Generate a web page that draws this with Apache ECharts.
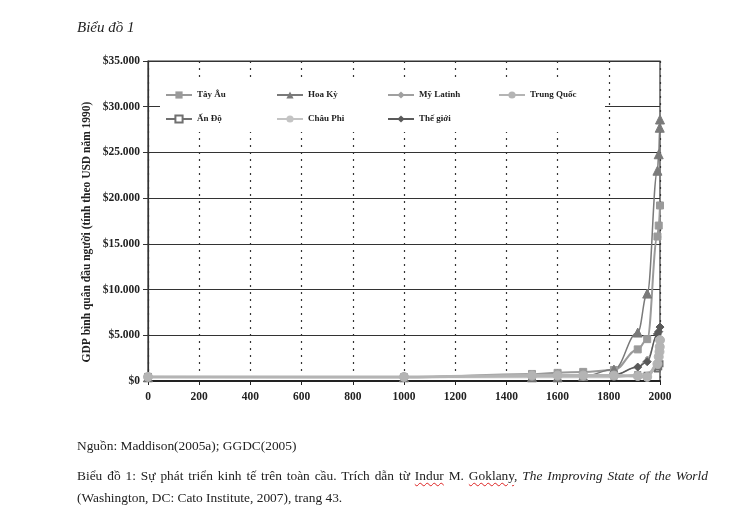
<!DOCTYPE html>
<html>
<head>
<meta charset="utf-8">
<script src="https://cdn.jsdelivr.net/npm/echarts@6/dist/echarts.min.js"></script>
<style>
  html, body { margin: 0; padding: 0; background: #fff; }
  #chart { position: absolute; left: 0; top: 0; width: 750px; height: 528px; }
  .cap { position: absolute; left: 77px; font-family: "Liberation Serif", serif; font-size: 13.4px; color: #222; white-space: nowrap; }
  .just { width: 631px; white-space: normal; text-align: justify; text-align-last: justify; }
  .sp { text-decoration: underline wavy #d22; text-underline-offset: 2px; text-decoration-thickness: 1px; }
</style>
</head>
<body>
<div id="chart"></div>
<div class="cap" style="top:438px;">Nguồn: Maddison(2005a); GGDC(2005)</div>
<div class="cap just" style="top:468px;">Biểu đồ 1: Sự phát triển kinh tế trên toàn cầu. Trích dẫn từ <span class="sp">Indur</span> M. <span class="sp">Goklany</span>, <i>The Improving State of the World</i></div>
<div class="cap" style="top:490px;">(Washington, DC: Cato Institute, 2007), trang 43.</div>
<script>
// ---- data ----
const seriesNames = ['Tây Âu', 'Hoa Kỳ', 'Mỹ Latinh', 'Trung Quốc', 'Ấn Độ', 'Châu Phi', 'Thế giới'];

const tayAuYears   = [0, 1000, 1500, 1600, 1700, 1820, 1913, 1950, 1990, 1995, 2000];
const tayAuValues  = [450, 400, 771, 890, 998, 1204, 3458, 4579, 15800, 17000, 19200];

const hoaKyYears   = [0, 1000, 1500, 1600, 1700, 1820, 1913, 1950, 1990, 1995, 1999, 2000];
const hoaKyValues  = [400, 400, 400, 400, 527, 1257, 5301, 9561, 23000, 24800, 27700, 28600];

const myLatinhYears  = [0, 1000, 1500, 1600, 1700, 1820, 1913, 1950, 1990, 1995, 2000];
const myLatinhValues = [400, 400, 416, 438, 527, 691, 1493, 2503, 5050, 5450, 5800];

const trungQuocYears  = [0, 1000, 1500, 1600, 1700, 1820, 1913, 1950, 1990, 1995, 1998, 1999, 2000];
const trungQuocValues = [450, 450, 600, 600, 600, 600, 552, 448, 1870, 2650, 3200, 3740, 4470];

const anDoYears   = [0, 1000, 1500, 1600, 1700, 1820, 1913, 1950, 1990, 1995, 2000];
const anDoValues  = [450, 450, 550, 550, 550, 533, 673, 619, 1310, 1570, 1900];

const chauPhiYears  = [0, 1000, 1500, 1600, 1700, 1820, 1913, 1950, 1990, 2000];
const chauPhiValues = [472, 425, 414, 422, 421, 420, 637, 890, 1430, 1450];

const theGioiYears  = [0, 1000, 1500, 1600, 1700, 1820, 1913, 1950, 1990, 1995, 2000];
const theGioiValues = [467, 453, 566, 596, 616, 667, 1526, 2113, 5150, 5400, 5900];

const xTicks = [0, 200, 400, 600, 800, 1000, 1200, 1400, 1600, 1800, 2000];
const yTicks = [0, 5000, 10000, 15000, 20000, 25000, 30000, 35000];

const yAxisTitle = 'GDP bình quân đầu người (tính theo USD năm 1990)';

function pairs(xs, ys) { return xs.map((x, i) => [x, ys[i]]); }

const FONT = '"Liberation Serif", "Times New Roman", serif';

const styles = [
  { color: '#9a9a9a', width: 2,   symbol: 'rect',      size: 7 },
  { color: '#7a7a7a', width: 1.5, symbol: 'triangle',  size: 9 },
  { color: '#a0a0a0', width: 1,   symbol: 'diamond',   size: 4 },
  { color: '#b4b4b4', width: 3,   symbol: 'circle',    size: 9 },
  { color: '#707070', width: 1,   symbol: 'emptyRect', size: 5 },
  { color: '#c4c4c4', width: 2,   symbol: 'none',      size: 0 },
  { color: '#5a5a5a', width: 1.5, symbol: 'diamond',   size: 8 }
];
const datasets = [
  pairs(tayAuYears, tayAuValues),
  pairs(hoaKyYears, hoaKyValues),
  pairs(myLatinhYears, myLatinhValues),
  pairs(trungQuocYears, trungQuocValues),
  pairs(anDoYears, anDoValues),
  pairs(chauPhiYears, chauPhiValues),
  pairs(theGioiYears, theGioiValues)
];

const chart = echarts.init(document.getElementById('chart'), null, { renderer: 'canvas' });

chart.setOption({
  animation: false,
  backgroundColor: '#fff',
  title: {
    text: 'Biểu đồ 1',
    left: 77, top: 21, padding: 0,
    textStyle: { fontFamily: FONT, fontStyle: 'italic', fontWeight: 'normal', fontSize: 15, color: '#222' }
  },
  graphic: [{
    type: 'text',
    x: 87, y: 232,
    rotation: Math.PI / 2,
    style: {
      text: yAxisTitle,
      fontFamily: FONT, fontWeight: 'bold', fontSize: 11.5, fill: '#222',
      align: 'center', verticalAlign: 'middle'
    }
  }],
  grid: {
    left: 148, right: 90, top: 61, bottom: 147,
    show: true, borderColor: '#333', borderWidth: 1.2, backgroundColor: 'transparent'
  },
  legend: {
    data: seriesNames,
    left: 160, top: 82,
    width: 445,
    padding: [6, 6, 6, 5],
    itemWidth: 26, itemHeight: 9, itemGap: 10,
    backgroundColor: '#fff',
    formatter: name => '{a|' + name + '}',
    textStyle: {
      fontFamily: FONT, fontWeight: 'bold', fontSize: 9, color: '#222',
      rich: { a: { width: 69, height: 14, lineHeight: 14, fontFamily: FONT, fontWeight: 'bold', fontSize: 9, color: '#222' } }
    },
    z: 10
  },
  xAxis: {
    type: 'value', min: 0, max: 2000, interval: 200,
    axisLine: { show: true, lineStyle: { color: '#222', width: 2 } },
    axisTick: { show: true, length: 4, lineStyle: { color: '#222' } },
    axisLabel: {
      fontFamily: FONT, fontWeight: 'bold', fontSize: 11.5, color: '#222', margin: 10,
      formatter: v => xTicks.includes(v) ? String(v) : ''
    },
    splitLine: { show: true, lineStyle: { color: '#333', type: [2, 5], width: 1.2 } }
  },
  yAxis: {
    type: 'value', min: 0, max: 35000, interval: 5000,
    axisLine: { show: true, lineStyle: { color: '#333', width: 1.2 } },
    axisTick: { show: true, length: 5, lineStyle: { color: '#333' } },
    axisLabel: {
      fontFamily: FONT, fontWeight: 'bold', fontSize: 11.5, color: '#222', margin: 8,
      formatter: v => yTicks.includes(v) ? '$' + String(v).replace(/\B(?=(\d{3})+(?!\d))/g, '.') : ''
    },
    splitLine: { show: true, lineStyle: { color: '#333', width: 1.2 } }
  },
  series: seriesNames.map((name, i) => ({
    name: name,
    type: 'line',
    data: datasets[i],
    smooth: 0.4,
    smoothMonotone: 'x',
    symbol: styles[i].symbol,
    symbolSize: styles[i].size,
    showSymbol: styles[i].symbol !== 'none',
    lineStyle: { color: styles[i].color, width: styles[i].width },
    itemStyle: { color: styles[i].color, borderColor: styles[i].color },
    z: i === 3 ? 3 : 2
  }))
});
</script>
</body>
</html>
